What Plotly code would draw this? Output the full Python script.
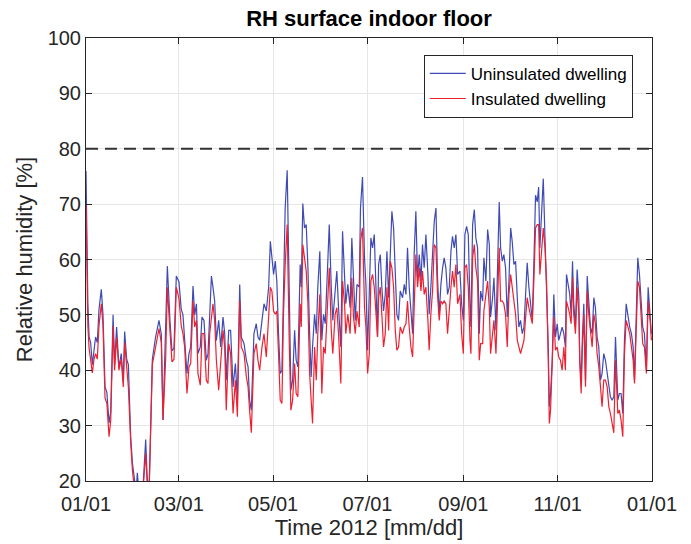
import pandas as pd
import plotly.graph_objects as go

# ---- data ----
day_offset = [
    0, 0.6, 1.2, 2, 3, 4.1, 5.2, 6.2, 7.3, 8.4, 9.9, 11, 12.3, 13.5, 14.9, 16, 17.5, 18.5, 19.8, 21.3,
    22.8, 24.1, 25, 26.3, 27.4, 28.9, 30, 31.5, 32.4, 33.2, 34.5, 36.5, 38.6, 39.5, 40.7, 42.9, 45, 47.2, 48.7, 49.8,
    51.5, 52.6, 54.3, 55.6, 56.9, 58.4, 60.1, 61.6,
    62.7, 63.8, 65.3, 66.6, 67.7, 69.2, 70.3, 71.4, 72.4, 73.9, 75.0, 76.3, 77.8, 78.9, 80.0, 81.1, 82.1, 83.2, 84.3, 85.8,
    87.1, 88.6, 89.7, 90.7, 92.3, 93.5, 95.1, 96.6, 97.9, 99.4, 100.4, 102.2, 103.7, 104.8, 105.8, 106.9, 108.6, 110.1, 111.2, 112.3,
    113.8, 115.1, 116.6, 118.1, 119.2,
    120.2, 121.3, 122.4, 123.4, 124.5, 125.6, 126.7, 127.7, 128.8, 130.1, 131.4, 132.5, 133.6, 134.9, 135.9, 137.0, 138.5, 139.2, 140.2, 141.3,
    142.4, 143.5, 144.6, 145.6, 146.5, 147.8, 148.9, 149.9, 151.2, 152.5, 153.6, 154.7, 156.2, 157.3, 158.6, 159.6, 161.1, 162.2, 163.3, 164.8,
    165.9, 167.2, 168.0, 169.3, 170.8, 171.9, 173.0, 174.1, 175.2, 176.7, 177.5, 178.8, 180.1,
    181.0, 182.1, 183.2, 184.2, 185.3, 186.4, 187.5, 188.5, 189.2, 190.3, 191.3, 192.4, 193.5, 194.6, 195.7, 196.7, 197.8, 198.9, 200.0, 201.0,
    202.1, 203.2, 204.7, 205.8, 206.9, 207.9, 209.0, 210.1, 211.2, 212.2, 213.3, 214.4, 215.5, 216.6, 217.6, 218.7, 219.8, 221.1, 221.9, 223.0,
    224.1, 225.2, 226.3, 227.3, 228.4, 229.5, 230.6, 231.6, 232.7, 233.8, 234.9, 236.0, 237.0, 238.1, 239.2, 240.3,
    241.8, 242.9, 244.0, 245.0, 246.1, 247.2, 248.3, 248.9, 250.0, 251.1, 252.1, 253.2, 254.3, 255.2, 256.5, 257.3, 258.6, 259.7, 260.8, 261.6,
    262.9, 263.8, 265.1, 265.9, 267.2, 268.1, 269.2, 270.2, 271.3, 272.4, 273.5, 274.6, 275.6, 276.7, 277.8, 278.9, 279.9, 281.0, 282.1, 283.2,
    284.3, 285.3, 286.4, 287.5, 288.6, 289.6, 290.7, 291.8, 292.7, 293.5, 294.6, 295.7, 296.8, 297.8, 298.9, 299.6, 300.4, 301.5,
    302.5, 303.6, 304.7, 305.7, 306.8, 307.9, 309.0, 310.0, 310.7, 311.8, 312.8, 313.7, 314.6, 315.4, 316.5, 317.6, 318.7, 319.3, 320.2, 321.0,
    321.9, 323.0, 324.1, 325.1, 326.2, 327.3, 328.4, 329.4, 330.5, 331.6, 332.7, 333.7, 334.8, 335.9, 337.0, 338.1, 339.1, 340.2, 341.3, 342.4,
    343.0, 343.9, 344.9, 346.0, 347.1, 348.2, 349.3, 350.3, 351.6, 352.7, 353.8, 354.7, 355.7, 356.8, 357.9, 359.0, 360.0, 361.1, 362.4, 363.5,
    364.8, 365.6,
]

rh_uninsulated = [
    76, 62, 52, 46, 45, 41, 44, 46, 45, 51, 54.6, 50, 37, 36, 30.5, 32.5, 50, 41, 47.8, 40.5,
    43, 38, 47, 42, 41, 28, 23.3, 19, 18, 21.5, 17, 17, 27.5, 21, 17, 42, 46, 49, 46.5, 31,
    45.7, 58.8, 49, 43.5, 44, 57, 56, 51,
    50, 45.4, 39.4, 43, 44.2, 55.2, 50, 52, 43, 44.2, 49.6, 49, 41.8, 43, 49, 57, 55, 52.5, 45.4, 49,
    44.2, 49.6, 46.6, 38.2, 47.2, 47.2, 37, 41.2, 34.6, 55.5, 46, 44.8, 41.8, 40.6, 34.6, 32.8, 46.6, 48.4, 46, 45.4,
    49, 52, 50.7, 55, 63.3,
    60.9, 57.3, 59.7, 56, 46.6, 39.4, 40, 55, 69.3, 76.1, 51.3, 36.4, 38.2, 47.2, 41.8, 40.6, 59.1, 55, 70.1, 65.7,
    66.3, 58.5, 46.6, 38.8, 44.2, 50.1, 46.6, 55, 61.5, 45.4, 50.1, 48.4, 58.5, 66.3, 55, 49, 54.3, 57.9, 51.3, 44.2,
    65.1, 57.9, 52, 55.5, 51.3, 63.9, 57.3, 49, 55.5, 55, 69.3, 74.9, 60.3,
    55.5, 43.6, 53.1, 63.9, 62.1, 64.5, 55, 46, 59.1, 60.9, 55, 50.7, 53.7, 61.5, 53.1, 60.3, 68.7, 65.7, 56.1, 50.1,
    49, 54.3, 53.1, 55.5, 53.7, 62.1, 55, 50.1, 46.6, 60.9, 68.7, 56.7, 60.9, 56.1, 62.7, 58.5, 64.5, 57.3, 50.1, 55,
    60.9, 66.9, 69.3, 56.7, 50.1, 55.5, 58.5, 60.3, 58.5, 53.7, 55, 61.5, 64.2, 62.1, 64.5, 57.3,
    57.9, 52, 49, 64.5, 66, 64.5, 52, 47.8, 66.3, 69, 63.9, 62.1, 46.6, 54.3, 52.5, 60.3, 56.1, 65.4, 62.7, 49.6,
    53.1, 56.7, 47.2, 56.1, 70.4, 62.1, 59.7, 60.9, 58.5, 49.6, 56.1, 65.7, 63.3, 59.1, 59.7, 53.1, 47.8, 49, 46.6, 47.8,
    55, 59.4, 55, 51.3, 49, 59.1, 71.6, 70.4, 73.1, 62.1, 68.1, 74.6, 63.9, 56.1, 44.2, 33.4, 35.8, 41.8,
    53.7, 46, 48.4, 45.4, 46.6, 47.8, 46.6, 44.2, 57.3, 55, 53.7, 50.1, 59.7, 52, 47.8, 58.2, 53.1, 41.8, 38.2, 46,
    52, 38.2, 57, 52.5, 47.8, 46.6, 53.1, 51.3, 46, 44.2, 38.2, 39.4, 43, 41.8, 39.4, 36.4, 35.2, 34.6, 35.2, 46,
    41.2, 34.6, 35.8, 35.8, 32.2, 45.4, 52, 50.1, 47.8, 46.6, 44.2, 38.2, 49, 60.3, 57.3, 52, 47.8, 46.6, 40, 55,
    50.1, 46.6,
]

rh_insulated = [
    70, 56, 48, 44, 42, 39.5, 42, 43, 42, 48, 52, 48, 35, 34, 28, 31, 48, 40, 46, 40,
    42, 37, 45, 40, 37, 27, 22, 18, 18, 20, 17, 17, 25, 20, 17, 41, 44, 47.5, 45, 31,
    42, 55, 47, 41.5, 42, 55, 53, 48,
    46.6, 44.2, 35.8, 40.6, 41.2, 52.5, 47.8, 49, 39.4, 37.3, 46.6, 46.6, 38.2, 37.6, 46.6, 49.6, 52, 49, 41.8, 36.4,
    41.2, 47.2, 44.2, 32.8, 44.8, 43, 32.2, 38.2, 31.6, 52.5, 44.2, 43, 38.8, 37, 32.8, 28.7, 43, 44.8, 41.8, 40,
    44.2, 46.6, 42.4, 49.6, 55,
    54.3, 50.7, 50.1, 50.7, 43, 34.6, 34, 50.1, 59.1, 66.3, 45.4, 32.8, 34.6, 41.2, 35.8, 35.2, 52, 47.8, 62.7, 60.3,
    57.9, 52, 39.4, 34.6, 30.4, 44.2, 38.2, 46.6, 53.7, 35.8, 44.2, 43, 52, 58.5, 47.2, 43, 50.1, 51.3, 46.6, 37.6,
    56.1, 52, 46.6, 50.1, 46.6, 56.7, 49.6, 46.6, 50.7, 47.8, 63.3, 65.7, 51.3,
    47.8, 39.4, 43, 56.1, 57.3, 55, 50.1, 46, 53.1, 55, 50.1, 44.2, 46.6, 55, 47.2, 59.7, 58.5, 55, 47.2, 43.6,
    44.2, 47.8, 46.6, 47.8, 48.4, 52.5, 47.8, 44.2, 42.4, 53.1, 60.9, 55, 58.5, 54.3, 57.9, 53.7, 55, 49, 43.6, 50.1,
    54.3, 62.7, 62.1, 53.7, 49, 52.5, 52, 52.5, 52, 46.6, 51.3, 55, 57.9, 55, 59.1, 52,
    53.7, 46.6, 43, 58.5, 59.1, 55, 45.4, 43, 60.3, 62.7, 58.5, 56.1, 41.8, 44.8, 44.8, 50.7, 53.7, 56.1, 51.3, 43,
    46.6, 49, 43, 49, 62.1, 52.5, 52.5, 52, 50.1, 44.2, 53.7, 57.3, 55, 53.1, 50.1, 45.4, 44.2, 43, 44.2, 45.4,
    49.6, 53.1, 51.3, 50.1, 48.4, 56.1, 65.7, 66.3, 66.3, 57.3, 62.1, 65.7, 62.1, 56.1, 42.4, 30.4, 32.8, 40,
    49.6, 43.6, 44.2, 42.4, 41.8, 40, 44.2, 40, 52.5, 51.3, 50.1, 48.4, 56.7, 50.1, 46.6, 55, 50.1, 41.2, 35.8, 44.2,
    50.1, 37, 54.3, 50.1, 46.6, 44.2, 50.1, 48.4, 43, 40.6, 37, 33.4, 38.2, 38.2, 37, 33.4, 32.2, 30.4, 28.7, 41.8,
    37, 32.2, 32.8, 31, 28, 43, 49, 47.8, 46.6, 44.2, 41.8, 37.6, 47.8, 56.1, 55, 49, 44.8, 44.2, 39.4, 52.5,
    49, 45.4,
]

series_names = ["Uninsulated dwelling", "Insulated dwelling"]
threshold_rh = 80
year_start = "2012-01-01"
year_end = "2013-01-01"
tick_dates = ["2012-01-01", "2012-03-01", "2012-05-01", "2012-07-01", "2012-09-01", "2012-11-01", "2013-01-01"]
tick_labels = ["01/01", "03/01", "05/01", "07/01", "09/01", "11/01", "01/01"]
y_ticks = [20, 30, 40, 50, 60, 70, 80, 90, 100]

dates = pd.Timestamp(year_start) + pd.to_timedelta(day_offset, unit="D")

FONT = "Liberation Sans, Arial, Helvetica, sans-serif"
TXT = "#262626"

fig = go.Figure()
fig.add_trace(go.Scatter(x=dates, y=rh_uninsulated, mode="lines", name=series_names[0],
                         line=dict(color="#3F4BB4", width=1.2)))
fig.add_trace(go.Scatter(x=dates, y=rh_insulated, mode="lines", name=series_names[1],
                         line=dict(color="#EE2030", width=1.2)))

fig.add_shape(type="line", xref="paper", x0=0, x1=1, yref="y", y0=threshold_rh, y1=threshold_rh,
              line=dict(color="#333333", width=2, dash="12px,7px"))

axis_common = dict(showline=True, linecolor=TXT, linewidth=1, mirror="ticks", ticks="inside",
                   ticklen=6, tickcolor=TXT, showgrid=True, gridcolor="#E6E6E6", gridwidth=1,
                   zeroline=False, tickfont=dict(family=FONT, size=20, color=TXT))

fig.update_xaxes(range=[year_start, year_end], tickvals=tick_dates, ticktext=tick_labels,
                 ticklabelstandoff=5,
                 title=dict(text="Time 2012 [mm/dd]", font=dict(family=FONT, size=22, color=TXT), standoff=2),
                 **axis_common)
fig.update_yaxes(range=[20, 100], tickvals=y_ticks,
                 title=dict(text="Relative humidity [%]", font=dict(family=FONT, size=22, color=TXT), standoff=8),
                 **axis_common)

fig.update_layout(
    width=691, height=544,
    margin=dict(l=86, r=39, t=38, b=60),
    paper_bgcolor="white", plot_bgcolor="white",
    title=dict(text="<b>RH surface indoor floor</b>", x=(86 + 652) / 2 / 691, xanchor="center",
               y=1 - 18 / 544, yanchor="middle", font=dict(family=FONT, size=22, color="black")),
    legend=dict(x=0.966, y=0.962, xanchor="right", yanchor="top", bgcolor="white",
                bordercolor="#262626", borderwidth=1, font=dict(family=FONT, size=17, color="black"),
                tracegroupgap=0, itemwidth=36),
    showlegend=True,
)

fig.write_html("out.html")
